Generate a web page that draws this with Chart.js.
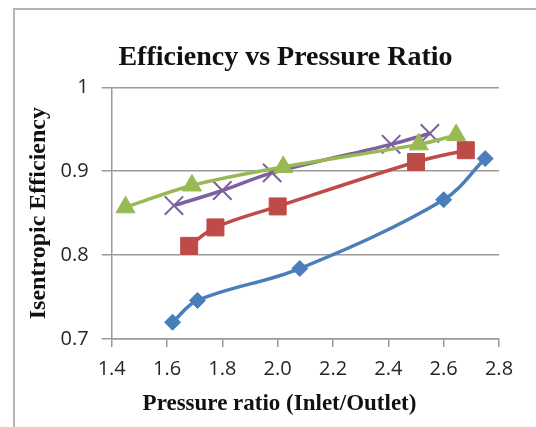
<!DOCTYPE html>
<html>
<head>
<meta charset="utf-8">
<script src="https://cdn.jsdelivr.net/npm/chart.js@4"></script>
<style>
  html, body { margin: 0; padding: 0; background: #fff; overflow: hidden; }
  #frame { position: absolute; left: 13px; top: 8px; width: 700px; height: 600px; border: 2px solid #b4b4b4; }
  #wrap { position: absolute; left: 0; top: 0; width: 536px; height: 427px; }
</style>
</head>
<body>
<div id="frame"></div>
<div id="wrap"><canvas id="chart" width="536" height="427"></canvas></div>
<script>
// valores
const blueX = [1.62, 1.71, 2.08, 2.60, 2.75];
const blueY = [0.720, 0.746, 0.784, 0.866, 0.915];
const redX = [1.68, 1.775, 2.00, 2.50, 2.68];
const redY = [0.811, 0.833, 0.858, 0.911, 0.925];
const greenX = [1.45, 1.69, 2.02, 2.51, 2.645];
const greenY = [0.857, 0.883, 0.905, 0.932, 0.943];
const purpleX = [1.625, 1.80, 1.98, 2.41, 2.55];
const purpleY = [0.859, 0.877, 0.898, 0.932, 0.945];

const xTicks = [1.4, 1.6, 1.8, 2, 2.2, 2.4, 2.6, 2.8];
const yTicks = [0.7, 0.8, 0.9, 1];

const titulo = 'Efficiency vs Pressure Ratio';
const tituloX = 'Pressure ratio (Inlet/Outlet)';
const tituloY = 'Isentropic Efficiency';

function puntos(xs, ys) {
    return xs.map(function(x, i) { return { x: x, y: ys[i] }; });
}

function serie(xs, ys, color, estilo, radio, borde) {
    return {
        data: puntos(xs, ys),
        borderColor: color,
        backgroundColor: color,
        borderWidth: 3.5,
        pointStyle: estilo,
        pointRadius: radio,
        pointBorderWidth: borde,
        pointBorderColor: color,
        pointBackgroundColor: color,
        tension: 0.35,
        clip: false
    };
}

// titulo y titulo del eje X dibujados a mano (Excel no los centra sobre el area)
const textos = {
    id: 'textos',
    afterDraw: function(chart) {
        const ctx = chart.ctx;
        ctx.save();
        ctx.fillStyle = '#111';
        ctx.textAlign = 'center';
        ctx.textBaseline = 'middle';
        ctx.font = 'bold 28px "Liberation Serif"';
        ctx.fillText(titulo, 285.5, 58);
        ctx.font = 'bold 23px "Liberation Serif"';
        ctx.fillText(tituloX, 279.5, 404);
        ctx.restore();
    }
};

const gris = '#9a9a9a';
const tickFont = { family: 'Open Sans', size: 20 };

new Chart(document.getElementById('chart').getContext('2d'), {
    type: 'line',
    data: {
        datasets: [
            serie(blueX, blueY, '#4a7ebb', 'rectRot', 8, 1),
            serie(redX, redY, '#be4b48', 'rect', 12, 1),
            serie(greenX, greenY, '#98b954', 'triangle', 11, 1),
            serie(purpleX, purpleY, '#7d60a0', 'crossRot', 13, 2)
        ]
    },
    plugins: [textos],
    options: {
        responsive: false,
        animation: false,
        layout: { padding: { left: 20, top: 87.3, right: 37, bottom: 0 } },
        plugins: {
            legend: { display: false },
            tooltip: { enabled: false },
            title: { display: false }
        },
        scales: {
            x: {
                type: 'linear',
                min: 1.4,
                max: 2.8,
                afterBuildTicks: function(s) { s.ticks = xTicks.map(function(v) { return { value: v }; }); },
                afterFit: function(s) { s.height = 88; },
                ticks: { color: '#262626', font: tickFont, padding: 10, maxRotation: 0 },
                grid: { drawOnChartArea: false, color: gris, lineWidth: 1.5, tickLength: 8 },
                border: { color: gris, width: 1.5 }
            },
            y: {
                min: 0.7,
                max: 1,
                afterBuildTicks: function(s) { s.ticks = yTicks.map(function(v) { return { value: v }; }); },
                afterFit: function(s) { s.width = 91.7; },
                ticks: {
                    color: '#262626',
                    font: tickFont,
                    padding: 13,
                    callback: function(v) { return String(Math.round(v * 10) / 10); }
                },
                grid: { color: gris, lineWidth: 1.5, tickLength: 10 },
                border: { color: gris, width: 1.5 },
                title: {
                    display: true,
                    text: tituloY,
                    color: '#111',
                    font: { family: 'Liberation Serif', size: 24, weight: 'bold' },
                    padding: { top: 4, bottom: 0 }
                }
            }
        }
    }
});
</script>
</body>
</html>
